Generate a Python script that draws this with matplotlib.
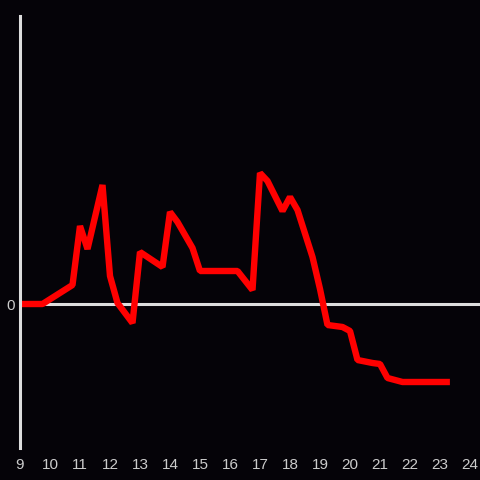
import matplotlib
matplotlib.use("Agg")
import matplotlib.pyplot as plt

# hour of day and value (arbitrary units, 0 = baseline)
hours = [9.0, 9.75, 10.75, 11.0, 11.25, 11.75, 12.0, 12.25, 12.75, 13.0,
         13.75, 14.0, 14.25, 14.75, 15.0, 16.25, 16.75, 17.0, 17.25, 17.75,
         18.0, 18.25, 18.75, 19.0, 19.25, 19.75, 20.0, 20.25, 20.75, 21.0,
         21.25, 21.75, 23.33]
values = [0, 0, 19, 78, 55, 119, 28, 1, -19, 52,
          37, 92, 82, 56, 33, 33, 14, 131, 123, 93,
          107, 94, 47, 15, -21, -23, -27, -56, -59, -60,
          -74, -78, -78]
xticks = list(range(9, 25))

bg = "#050308"
fig = plt.figure(figsize=(4.8, 4.8), dpi=100, facecolor=bg)
ax = fig.add_axes([20 / 480, 32 / 480, 460 / 480, 432 / 480])
ax.set_facecolor(bg)

ax.plot(hours, values, color="#ff0000", lw=4.6, solid_joinstyle="bevel",
        solid_capstyle="butt", zorder=2)
ax.axhline(0, color="#dddddd", lw=2.2, zorder=1)

ax.set_xlim(9, 9 + 460 / 30)
ax.set_ylim(-144, 288)

for s in ["top", "right", "bottom"]:
    ax.spines[s].set_visible(False)
ax.spines["left"].set_color("#dddddd")
ax.spines["left"].set_linewidth(2.2)
ax.spines["left"].set_zorder(3)

ax.set_xticks(xticks)
ax.set_xticklabels([str(t) for t in xticks])
ax.set_yticks([0])
ax.set_yticklabels(["0"])
ax.tick_params(axis="both", length=0, colors="#cccccc", labelsize=11)
ax.tick_params(axis="x", pad=7)
ax.tick_params(axis="y", pad=4)
for lab in ax.get_xticklabels() + ax.get_yticklabels():
    lab.set_family("Liberation Sans")

fig.savefig("out.png", dpi=100, facecolor=bg)
